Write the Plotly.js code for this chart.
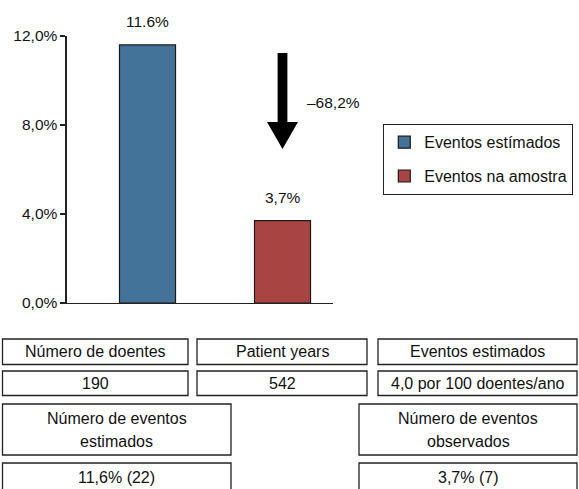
<!DOCTYPE html>
<html>
<head>
<meta charset="utf-8">
<script src="https://cdn.plot.ly/plotly-3.0.1.min.js"></script>
<style>html,body{margin:0;padding:0;background:#fff;}#chart{width:579px;height:489px;}</style>
</head>
<body>
<div id="chart"></div>
<script>
// ---- data ----
var seriesNames = ["Eventos estímados", "Eventos na amostra"];
var categories = ["Eventos estímados", "Eventos na amostra"];
var values = [11.6, 3.7];
var barLabels = ["11.6%", "3,7%"];
var barColors = ["#447399", "#a84543"];
var reductionLabel = "–68,2%";
var yTickVals = [0, 4, 8, 12];
var yTickText = ["0,0%", "4,0%", "8,0%", "12,0%"];
var tableHeaders = ["Número de doentes", "Patient years", "Eventos estimados"];
var tableValues = ["190", "542", "4,0 por 100 doentes/ano"];
var eventHeaders = ["Número de eventos<br>estimados", "Número de eventos<br>observados"];
var eventValues = ["11,6% (22)", "3,7% (7)"];

// ---- layout helpers ----
var W = 579, H = 489;
function px(x) { return x / W; }
function py(y) { return 1 - y / H; }
var FONT = "Liberation Sans, Arial, Helvetica, sans-serif";
var FS = 16;
var TFS = 15.5;
var LINE = "#222";
var TXT = "#111";

var traces = values.map(function (v, i) {
  return {
    type: "bar",
    x: [categories[i]],
    y: [v],
    name: seriesNames[i],
    legendgroup: "g" + i,
    width: 0.415,
    marker: { color: barColors[i], line: { color: "#1a1a1a", width: 1.2 } },
    hoverinfo: "none"
  };
});

var shapes = [];
var annotations = [];

// bar value labels
values.forEach(function (v, i) {
  annotations.push({
    xref: "x", yref: "y", x: categories[i], y: v,
    text: barLabels[i], showarrow: false,
    yanchor: "middle", yshift: 23.5,
    font: { family: FONT, size: TFS, color: TXT }
  });
});

// downward arrow (decoration)
var ax = 282.5;
shapes.push({
  type: "path", xref: "paper", yref: "paper",
  path: "M" + px(ax - 4.9) + "," + py(53) +
        " L" + px(ax + 4.9) + "," + py(53) +
        " L" + px(ax + 4.9) + "," + py(122) +
        " L" + px(ax + 15.5) + "," + py(122) +
        " L" + px(ax) + "," + py(149) +
        " L" + px(ax - 15.5) + "," + py(122) +
        " L" + px(ax - 4.9) + "," + py(122) + " Z",
  fillcolor: "#000", line: { width: 0 }
});
annotations.push({
  xref: "paper", yref: "paper", x: px(305), y: py(103),
  xanchor: "left", yanchor: "middle", text: reductionLabel, showarrow: false,
  font: { family: FONT, size: TFS, color: TXT }
});

// table boxes
function box(x0, y0, x1, y1, text, lineGap) {
  shapes.push({
    type: "rect", xref: "paper", yref: "paper",
    x0: px(x0), x1: px(x1), y0: py(y0), y1: py(y1),
    line: { color: LINE, width: 1.3 }, fillcolor: "rgba(0,0,0,0)"
  });
  var lines = text.split("<br>");
  var cy = (y0 + y1) / 2;
  lines.forEach(function (ln, k) {
    var yy = cy + (k - (lines.length - 1) / 2) * (lineGap || 0);
    annotations.push({
      xref: "paper", yref: "paper", x: px((x0 + x1) / 2), y: py(yy),
      xanchor: "center", yanchor: "middle", text: ln, showarrow: false,
      font: { family: FONT, size: FS, color: TXT }
    });
  });
}
var col3 = [[2.5, 188], [197, 367], [378, 577]];
tableHeaders.forEach(function (t, i) { box(col3[i][0], 339, col3[i][1], 364.5, t); });
tableValues.forEach(function (t, i) { box(col3[i][0], 371, col3[i][1], 395.5, t); });
var col2 = [[2.5, 231], [359, 577]];
eventHeaders.forEach(function (t, i) { box(col2[i][0], 404, col2[i][1], 455, t, 23); });
eventValues.forEach(function (t, i) { box(col2[i][0], 463, col2[i][1], 491, t); });

var layout = {
  width: W, height: H,
  margin: { l: 0, r: 0, t: 0, b: 0, pad: 0 },
  paper_bgcolor: "#fff", plot_bgcolor: "rgba(0,0,0,0)",
  font: { family: FONT, size: FS, color: TXT },
  barmode: "overlay",
  showlegend: true,
  legend: {
    x: px(383), y: py(124), xanchor: "left", yanchor: "top",
    bordercolor: LINE, borderwidth: 1.3, bgcolor: "#fff",
    font: { family: FONT, size: FS, color: TXT },
    tracegroupgap: 10, traceorder: "grouped"
  },
  xaxis: {
    domain: [px(66.7), px(333)],
    range: [-0.5985, 1.374],
    showticklabels: false, ticks: "",
    showline: true, linecolor: LINE, linewidth: 1.3,
    showgrid: false, zeroline: false, fixedrange: true
  },
  yaxis: {
    domain: [py(303), py(36)],
    range: [0, 12],
    tickvals: yTickVals, ticktext: yTickText,
    ticks: "outside", ticklen: 5, tickwidth: 1.3, tickcolor: LINE,
    showline: true, linecolor: LINE, linewidth: 1.3,
    showgrid: false, zeroline: false, fixedrange: true,
    tickfont: { family: FONT, size: TFS, color: TXT }
  },
  shapes: shapes,
  annotations: annotations
};

Plotly.newPlot("chart", traces, layout, { displayModeBar: false, staticPlot: true });
</script>
</body>
</html>
